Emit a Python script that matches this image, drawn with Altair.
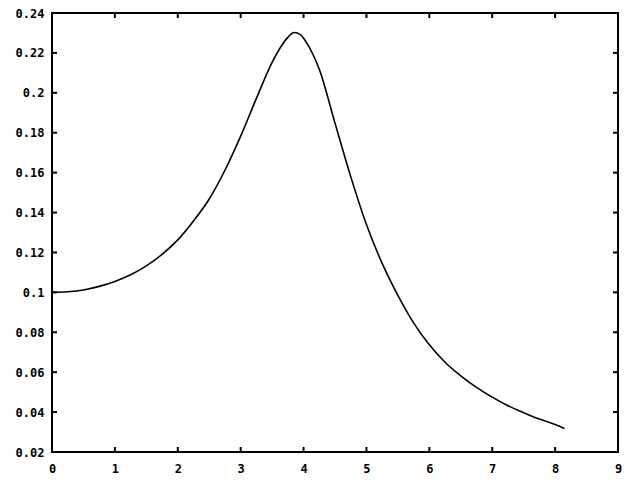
import altair as alt
import pandas as pd

# curve values
xs = [0.0, 0.25, 0.5, 0.75, 1.0, 1.25, 1.5, 1.75, 2.0, 2.25, 2.5, 2.75, 3.0,
      3.25, 3.5, 3.65, 3.75, 3.85, 3.95, 4.05, 4.15, 4.25, 4.5, 4.75, 5.0,
      5.25, 5.5, 5.75, 6.0, 6.25, 6.5, 6.75, 7.0, 7.25, 7.5, 7.75, 8.0, 8.15]
ys = [0.1000, 0.1003, 0.1012, 0.1030, 0.1055, 0.1088, 0.1133, 0.1190, 0.1263,
      0.1358, 0.1468, 0.1612, 0.1783, 0.1972, 0.2153, 0.2236, 0.2278, 0.2302,
      0.2292, 0.2250, 0.2192, 0.2118, 0.1848, 0.1580, 0.1340, 0.1145, 0.0985,
      0.0847, 0.0737, 0.0650, 0.0582, 0.0524, 0.0475, 0.0432, 0.0397, 0.0365,
      0.0338, 0.0318]

x_ticks = [0, 1, 2, 3, 4, 5, 6, 7, 8, 9]
y_ticks = [0.02, 0.04, 0.06, 0.08, 0.10, 0.12, 0.14, 0.16, 0.18, 0.20, 0.22, 0.24]

W, H = 566, 439
TL = 5  # inward tick length

curve = pd.DataFrame({"x": xs, "y": ys})
xt = pd.DataFrame({"xt": x_ticks})
yt = pd.DataFrame({"yt": y_ticks})

xscale = alt.Scale(domain=[0, 9], nice=False, zero=False)
yscale = alt.Scale(domain=[0.02, 0.24], nice=False, zero=False)

xaxis = alt.Axis(values=x_ticks, format="d", labelPadding=11, title=None)
yaxis = alt.Axis(values=y_ticks, format=".2~f", labelPadding=8, title=None)

line = alt.Chart(curve).mark_line(color="black", strokeWidth=1.6, interpolate="monotone").encode(
    x=alt.X("x:Q", scale=xscale, axis=xaxis),
    y=alt.Y("y:Q", scale=yscale, axis=yaxis),
)

xb = alt.Chart(xt).mark_rule(color="black", strokeWidth=2).encode(
    x=alt.X("xt:Q", scale=xscale, axis=xaxis), y=alt.value(H), y2=alt.value(H - TL))
xtp = alt.Chart(xt).mark_rule(color="black", strokeWidth=2).encode(
    x=alt.X("xt:Q", scale=xscale, axis=xaxis), y=alt.value(0), y2=alt.value(TL))
yl = alt.Chart(yt).mark_rule(color="black", strokeWidth=2).encode(
    y=alt.Y("yt:Q", scale=yscale, axis=yaxis), x=alt.value(0), x2=alt.value(TL))
yr = alt.Chart(yt).mark_rule(color="black", strokeWidth=2).encode(
    y=alt.Y("yt:Q", scale=yscale, axis=yaxis), x=alt.value(W), x2=alt.value(W - TL))

chart = alt.layer(line, xb, xtp, yl, yr).properties(
    width=W, height=H,
    autosize=alt.AutoSizeParams(type="none"),
    padding={"left": 44, "top": 5, "right": 6, "bottom": 30},
    background="white",
).configure_view(stroke="black", strokeWidth=2).configure_axis(
    labelFont="DejaVu Sans Mono", labelFontWeight="bold", labelFontSize=12,
    labelColor="black", ticks=False, tickSize=0, domain=False, grid=False,
    labelOverlap=False, labelFlush=False,
)

chart.save("out.html", embed_options={"renderer": "svg", "actions": False})
